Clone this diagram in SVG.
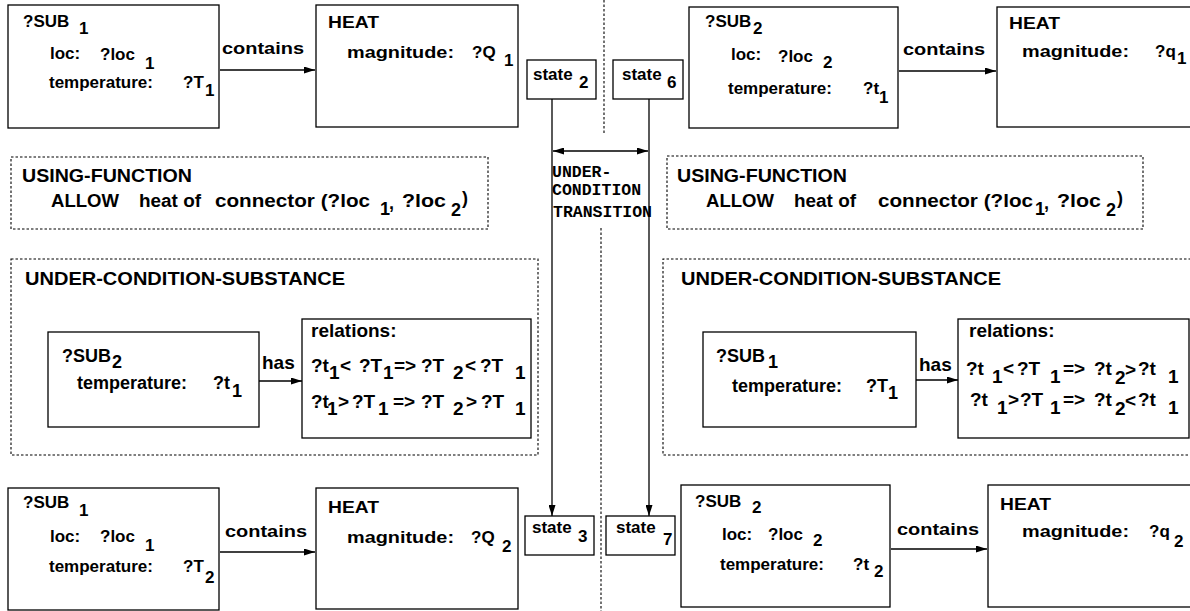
<svg xmlns="http://www.w3.org/2000/svg" width="1190" height="611" viewBox="0 0 1190 611">
<defs>
<style>
.b{fill:#fff;stroke:#000;stroke-width:1.3}
.d{fill:none;stroke:#000;stroke-width:1.1;stroke-dasharray:2.5 2}
.ln{fill:none;stroke:#000;stroke-width:1.3}
text{font-family:"Liberation Sans",Arial,Helvetica,sans-serif;font-weight:bold;font-size:17px;fill:#000}
.r{font-size:19px}
.h{font-size:18px}
.m{font-family:"Liberation Mono","Courier New",monospace;font-size:16.5px;font-weight:bold}
</style>
<marker id="ah" markerWidth="11" markerHeight="7" refX="11" refY="3.5" orient="auto-start-reverse" markerUnits="userSpaceOnUse">
<path d="M0,0 L11,3.5 L0,7 z" fill="#000"/>
</marker>
</defs>
<rect width="1190" height="611" fill="#fff"/>

<g id="dividers">
<line class="d" x1="604" y1="0" x2="604" y2="133"/>
<line class="d" x1="601" y1="228" x2="601" y2="611"/>
</g>

<g id="using-function-left">
<rect class="d" x="11" y="157" width="477" height="72"/>
<text x="22" y="182" textLength="170" lengthAdjust="spacingAndGlyphs" class="h">USING-FUNCTION</text>
<text x="51" y="207" textLength="68" lengthAdjust="spacingAndGlyphs" class="h">ALLOW</text>
<text x="139" y="207" textLength="62" lengthAdjust="spacingAndGlyphs" class="h">heat of</text>
<text x="215" y="207" textLength="155" lengthAdjust="spacingAndGlyphs" class="h">connector (?loc</text>
<text x="380" y="215" class="h">1</text>
<text x="389" y="209" class="h">,</text>
<text x="402" y="207" textLength="44" lengthAdjust="spacingAndGlyphs" class="h">?loc</text>
<text x="462" y="204" class="h">)</text>
<text x="451" y="216" class="h">2</text>
</g>
<g id="using-function-right">
<rect class="d" x="667" y="156" width="476" height="73"/>
<text x="677" y="182" textLength="170" lengthAdjust="spacingAndGlyphs" class="h">USING-FUNCTION</text>
<text x="706" y="207" textLength="68" lengthAdjust="spacingAndGlyphs" class="h">ALLOW</text>
<text x="794" y="207" textLength="62" lengthAdjust="spacingAndGlyphs" class="h">heat of</text>
<text x="878" y="207" textLength="155" lengthAdjust="spacingAndGlyphs" class="h">connector (?loc</text>
<text x="1035" y="215" class="h">1</text>
<text x="1044" y="209" class="h">,</text>
<text x="1057" y="207" textLength="44" lengthAdjust="spacingAndGlyphs" class="h">?loc</text>
<text x="1117" y="204" class="h">)</text>
<text x="1106" y="216" class="h">2</text>
</g>

<g id="ucs-left">
<rect class="d" x="11" y="259" width="527" height="196"/>
<text x="25" y="285" textLength="320" lengthAdjust="spacingAndGlyphs" class="h">UNDER-CONDITION-SUBSTANCE</text>
</g>
<g id="ucs-right">
<path class="d" d="M1200,259 H663 V455 H1200"/>
<text x="681" y="285" textLength="320" lengthAdjust="spacingAndGlyphs" class="h">UNDER-CONDITION-SUBSTANCE</text>
</g>

<g id="connectors">
<line class="ln" x1="220" y1="70" x2="315" y2="70" marker-end="url(#ah)"/>
<line class="ln" x1="899" y1="71" x2="996" y2="71" marker-end="url(#ah)"/>
<line class="ln" x1="220" y1="552" x2="315" y2="552" marker-end="url(#ah)"/>
<line class="ln" x1="891" y1="549" x2="987" y2="549" marker-end="url(#ah)"/>
<line class="ln" x1="259" y1="381" x2="302" y2="381" marker-end="url(#ah)"/>
<line class="ln" x1="916" y1="380" x2="958" y2="380" marker-end="url(#ah)"/>
<line class="ln" x1="552" y1="99" x2="552" y2="516" marker-end="url(#ah)"/>
<line class="ln" x1="649" y1="99" x2="649" y2="516" marker-end="url(#ah)"/>
<line class="ln" x1="553" y1="151" x2="648" y2="151" marker-start="url(#ah)" marker-end="url(#ah)"/>
<text x="222" y="54" textLength="82" lengthAdjust="spacingAndGlyphs">contains</text>
<text x="903" y="55" textLength="82" lengthAdjust="spacingAndGlyphs">contains</text>
<text x="225" y="537" textLength="82" lengthAdjust="spacingAndGlyphs">contains</text>
<text x="897" y="535" textLength="82" lengthAdjust="spacingAndGlyphs">contains</text>
<text x="262" y="369" class="r">has</text>
<text x="919" y="371" class="r">has</text>
<text x="552" y="177" class="m">UNDER-</text>
<text x="552" y="195" class="m">CONDITION</text>
<text x="553" y="217" class="m">TRANSITION</text>
</g>

<g id="sub1-top">
<rect class="b" x="8" y="5" width="211" height="123"/>
<text x="23" y="27">?SUB</text><text x="79" y="34">1</text>
<text x="50" y="59">loc:</text><text x="100" y="60">?loc</text><text x="145" y="69">1</text>
<text x="49" y="88">temperature:</text><text x="183" y="88">?T</text><text x="205" y="96">1</text>
</g>
<g id="heat-top-left">
<rect class="b" x="316" y="5" width="202" height="122"/>
<text x="328" y="28" textLength="51" lengthAdjust="spacingAndGlyphs">HEAT</text>
<text x="347" y="58" textLength="107" lengthAdjust="spacingAndGlyphs">magnitude:</text>
<text x="472" y="58">?Q</text><text x="504" y="66">1</text>
</g>
<g id="state2">
<rect class="b" x="527" y="60" width="69" height="39"/>
<text x="533" y="80">state</text><text x="579" y="88">2</text>
</g>
<g id="state6">
<rect class="b" x="613" y="60" width="70" height="39"/>
<text x="622" y="80">state</text><text x="667" y="88">6</text>
</g>
<g id="sub2-top">
<rect class="b" x="689" y="7" width="209" height="121"/>
<text x="705" y="27">?SUB</text><text x="753" y="34">2</text>
<text x="731" y="60">loc:</text><text x="778" y="62">?loc</text><text x="823" y="68">2</text>
<text x="728" y="94">temperature:</text><text x="863" y="94">?t</text><text x="879" y="103">1</text>
</g>
<g id="heat-top-right">
<rect class="b" x="997" y="7" width="210" height="120"/>
<text x="1009" y="29" textLength="51" lengthAdjust="spacingAndGlyphs">HEAT</text>
<text x="1022" y="57" textLength="107" lengthAdjust="spacingAndGlyphs">magnitude:</text>
<text x="1155" y="57">?q</text><text x="1177" y="64">1</text>
</g>

<g id="sub2-mid">
<rect class="b" x="48" y="332" width="211" height="95"/>
<text x="62" y="362" class="h">?SUB</text><text x="112" y="368" class="h">2</text>
<text x="77" y="389" class="h">temperature:</text><text x="213" y="389" class="h">?t</text><text x="232" y="397" class="h">1</text>
</g>
<g id="relations-left">
<rect class="b" x="302" y="319" width="229" height="119"/>
<text x="311" y="337" class="r">relations:</text>
<text x="311" y="372" class="r">?t</text><text x="329" y="379" class="r">1</text><text x="340" y="372" class="r">&lt;</text>
<text x="359" y="372" class="r">?T</text><text x="383" y="379" class="r">1</text><text x="394" y="372" class="r">=&gt;</text>
<text x="421" y="372" class="r">?T</text><text x="453" y="379" class="r">2</text><text x="465" y="372" class="r">&lt;</text>
<text x="480" y="372" class="r">?T</text><text x="515" y="379" class="r">1</text>
<text x="311" y="408" class="r">?t</text><text x="327" y="415" class="r">1</text><text x="338" y="408" class="r">&gt;</text>
<text x="352" y="408" class="r">?T</text><text x="378" y="415" class="r">1</text><text x="393" y="408" class="r">=&gt;</text>
<text x="421" y="408" class="r">?T</text><text x="453" y="415" class="r">2</text><text x="466" y="408" class="r">&gt;</text>
<text x="481" y="408" class="r">?T</text><text x="515" y="415" class="r">1</text>
</g>

<g id="sub1-mid">
<rect class="b" x="703" y="332" width="213" height="95"/>
<text x="716" y="362" class="h">?SUB</text><text x="768" y="368" class="h">1</text>
<text x="732" y="392" class="h">temperature:</text><text x="866" y="392" class="h">?T</text><text x="888" y="399" class="h">1</text>
</g>
<g id="relations-right">
<rect class="b" x="958" y="319" width="231" height="119"/>
<text x="969" y="337" class="r">relations:</text>
<text x="966" y="375" class="r">?t</text><text x="992" y="383" class="r">1</text><text x="1003" y="375" class="r">&lt;</text>
<text x="1017" y="375" class="r">?T</text><text x="1050" y="383" class="r">1</text><text x="1063" y="375" class="r">=&gt;</text>
<text x="1094" y="375" class="r">?t</text><text x="1115" y="384" class="r">2</text><text x="1125" y="376" class="r">&gt;</text>
<text x="1138" y="375" class="r">?t</text><text x="1168" y="383" class="r">1</text>
<text x="970" y="406" class="r">?t</text><text x="997" y="414" class="r">1</text><text x="1008" y="406" class="r">&gt;</text>
<text x="1020" y="406" class="r">?T</text><text x="1050" y="414" class="r">1</text><text x="1063" y="406" class="r">=&gt;</text>
<text x="1094" y="406" class="r">?t</text><text x="1115" y="415" class="r">2</text><text x="1125" y="407" class="r">&lt;</text>
<text x="1138" y="406" class="r">?t</text><text x="1168" y="414" class="r">1</text>
</g>

<g id="sub1-bottom">
<rect class="b" x="8" y="488" width="211" height="122"/>
<text x="23" y="508">?SUB</text><text x="79" y="516">1</text>
<text x="50" y="542">loc:</text><text x="100" y="542">?loc</text><text x="145" y="551">1</text>
<text x="49" y="572">temperature:</text><text x="183" y="572">?T</text><text x="205" y="583">2</text>
</g>
<g id="heat-bottom-left">
<rect class="b" x="316" y="488" width="202" height="121"/>
<text x="328" y="513" textLength="51" lengthAdjust="spacingAndGlyphs">HEAT</text>
<text x="347" y="543" textLength="107" lengthAdjust="spacingAndGlyphs">magnitude:</text>
<text x="471" y="543">?Q</text><text x="502" y="552">2</text>
</g>
<g id="state3">
<rect class="b" x="525" y="516" width="69" height="39"/>
<text x="532" y="533">state</text><text x="578" y="542">3</text>
</g>
<g id="state7">
<rect class="b" x="606" y="516" width="69" height="39"/>
<text x="616" y="533">state</text><text x="663" y="545">7</text>
</g>
<g id="sub2-bottom">
<rect class="b" x="681" y="485" width="209" height="122"/>
<text x="695" y="507">?SUB</text><text x="752" y="513">2</text>
<text x="722" y="540">loc:</text><text x="768" y="540">?loc</text><text x="813" y="546">2</text>
<text x="720" y="570">temperature:</text><text x="853" y="570">?t</text><text x="874" y="577">2</text>
</g>
<g id="heat-bottom-right">
<rect class="b" x="988" y="485" width="220" height="122"/>
<text x="1000" y="510" textLength="51" lengthAdjust="spacingAndGlyphs">HEAT</text>
<text x="1022" y="537" textLength="107" lengthAdjust="spacingAndGlyphs">magnitude:</text>
<text x="1149" y="537">?q</text><text x="1174" y="547">2</text>
</g>
</svg>
